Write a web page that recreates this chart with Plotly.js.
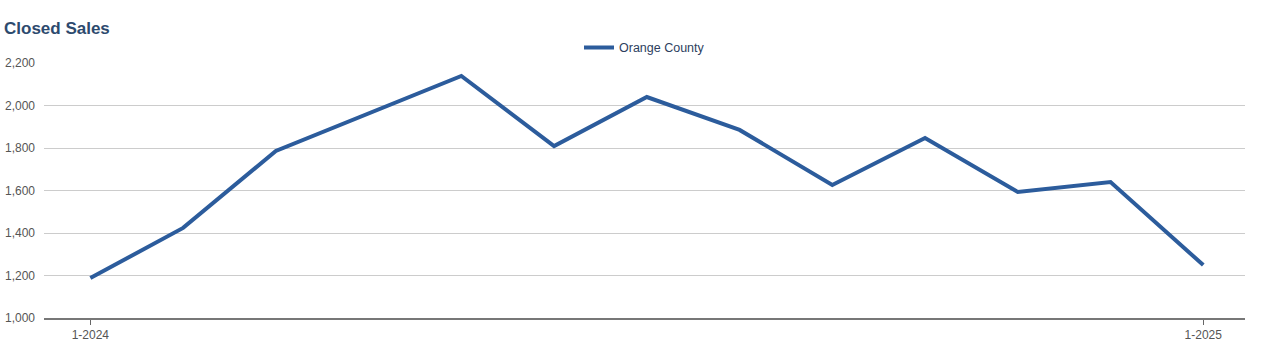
<!DOCTYPE html>
<html>
<head>
<meta charset="utf-8">
<script src="https://cdn.plot.ly/plotly-3.0.1.min.js"></script>
<style>
html,body{margin:0;padding:0;background:#fff;}
#chart{width:1270px;height:354px;}
</style>
</head>
<body>
<div id="chart"></div>
<script>
const months = ["1-2024","2-2024","3-2024","4-2024","5-2024","6-2024","7-2024","8-2024","9-2024","10-2024","11-2024","12-2024","1-2025"];
const closedSales = [1188, 1424, 1786, 1965, 2139, 1809, 2040, 1885, 1626, 1847, 1593, 1640, 1249];
const xTickLabels = ["1-2024","1-2025"];
const yTicks = [1000,1200,1400,1600,1800,2000,2200];
const seriesName = "Orange County";

const trace = {
  x: months,
  y: closedSales,
  type: "scatter",
  mode: "lines",
  name: seriesName,
  line: {color: "#2c5c9c", width: 4},
  hoverinfo: "x+y"
};

const layout = {
  width: 1270,
  height: 354,
  margin: {l: 44, r: 25, t: 63, b: 36},
  paper_bgcolor: "#ffffff",
  plot_bgcolor: "#ffffff",
  font: {family: "Liberation Sans, Arial, sans-serif", size: 12, color: "#555555"},
  title: {
    text: "<b>Closed Sales</b>",
    x: 4/1270, xanchor: "left", xref: "container",
    y: 0.92, yanchor: "middle", yref: "container",
    font: {family: "Liberation Sans, Arial, sans-serif", size: 17, color: "#2d4a6e"}
  },
  showlegend: true,
  legend: {
    orientation: "h",
    x: 0.5, xanchor: "center", xref: "paper",
    y: 0.865, yanchor: "middle", yref: "container",
    font: {size: 12.5, color: "#2d3e5e"},
    itemwidth: 30,
    bgcolor: "rgba(0,0,0,0)"
  },
  xaxis: {
    type: "category",
    range: [-0.5, 12.45],
    tickmode: "array",
    tickvals: xTickLabels,
    ticktext: xTickLabels,
    ticks: "outside",
    ticklen: 5,
    tickwidth: 1,
    tickcolor: "#666666",
    showgrid: false,
    zeroline: false,
    showline: true,
    linecolor: "#777777",
    linewidth: 2,
    tickfont: {size: 12, color: "#555555"},
    fixedrange: true
  },
  yaxis: {
    range: [1000, 2200],
    tickmode: "array",
    tickvals: yTicks,
    ticktext: yTicks.map(v => v.toLocaleString("en-US")),
    showgrid: true,
    gridcolor: "#cccccc",
    gridwidth: 1,
    zeroline: false,
    showline: false,
    ticks: "",
    ticklabelstandoff: 8,
    tickfont: {size: 12, color: "#555555"},
    fixedrange: true
  }
};

Plotly.newPlot("chart", [trace], layout, {displayModeBar: false, staticPlot: false});
</script>
</body>
</html>
